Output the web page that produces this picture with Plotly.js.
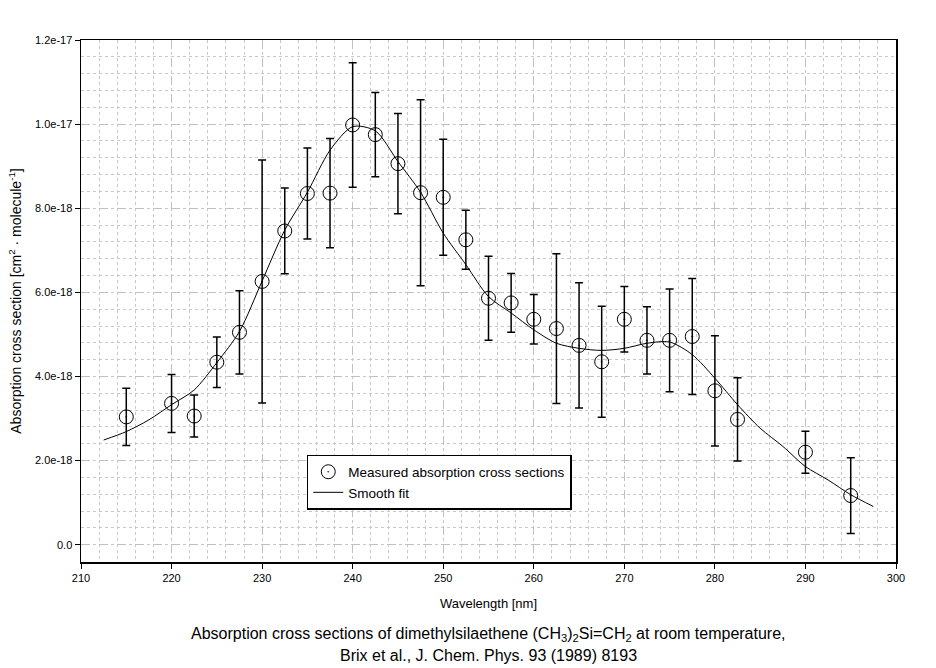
<!DOCTYPE html>
<html>
<head>
<meta charset="utf-8">
<script src="https://cdn.plot.ly/plotly-3.0.1.min.js"></script>
<style>html,body{margin:0;padding:0;background:#fff;}#chart{width:936px;height:668px;}</style>
</head>
<body>
<div id="chart"></div>
<script>
// Measured data (wavelength in nm, cross section in cm^2 molecule^-1)
const wavelength = [215,220,222.5,225,227.5,230,232.5,235,237.5,240,242.5,245,247.5,250,252.5,255,257.5,260,262.5,265,267.5,270,272.5,275,277.5,280,282.5,290,295];
const crossSection = [3.04e-18,3.36e-18,3.06e-18,4.34e-18,5.05e-18,6.26e-18,7.46e-18,8.35e-18,8.36e-18,9.98e-18,9.75e-18,9.06e-18,8.37e-18,8.26e-18,7.25e-18,5.86e-18,5.75e-18,5.36e-18,5.14e-18,4.74e-18,4.35e-18,5.36e-18,4.86e-18,4.86e-18,4.95e-18,3.66e-18,2.98e-18,2.20e-18,1.17e-18];
const crossError = [0.68e-18,0.69e-18,0.50e-18,0.60e-18,0.99e-18,2.89e-18,1.02e-18,1.08e-18,1.30e-18,1.48e-18,1.00e-18,1.19e-18,2.21e-18,1.38e-18,0.70e-18,1.00e-18,0.70e-18,0.59e-18,1.78e-18,1.49e-18,1.32e-18,0.78e-18,0.80e-18,1.22e-18,1.38e-18,1.31e-18,0.99e-18,0.50e-18,0.90e-18];

// Smooth fit curve
const fitWavelength = [212.5,215,217.5,220,222.5,225,227.5,230,232.5,235,237.5,240,242.5,245,247.5,250,252.5,255,257.5,260,262.5,265,267.5,270,272.5,275,277.5,280,282.5,285,287.5,290,292.5,295,297.5];
const fitCross = [2.49e-18,2.69e-18,2.97e-18,3.33e-18,3.68e-18,4.33e-18,5.07e-18,6.27e-18,7.48e-18,8.38e-18,9.38e-18,9.94e-18,9.84e-18,9.11e-18,8.38e-18,7.41e-18,6.66e-18,5.90e-18,5.51e-18,5.11e-18,4.79e-18,4.67e-18,4.62e-18,4.67e-18,4.79e-18,4.82e-18,4.52e-18,3.96e-18,3.33e-18,2.77e-18,2.34e-18,1.86e-18,1.54e-18,1.19e-18,0.91e-18];

// Tick labels
const xTickVals = [210,220,230,240,250,260,270,280,290,300];
const yTickVals = [0,2e-18,4e-18,6e-18,8e-18,1e-17,1.2e-17];
const yTickText = ['0.0','2.0e-18','4.0e-18','6.0e-18','8.0e-18','1.0e-17','1.2e-17'];

const FONT = 'Arial, "Liberation Sans", sans-serif';

const traces = [
  {
    x: wavelength, y: crossSection,
    type: 'scatter', mode: 'markers',
    name: 'Measured absorption cross sections',
    marker: {symbol: 'circle-open-dot', size: 14, color: '#000', line: {color: '#000', width: 1}},
    error_y: {type: 'data', array: crossError, visible: true, color: '#000', thickness: 1.5, width: 4}
  },
  {
    x: fitWavelength, y: fitCross,
    type: 'scatter', mode: 'lines',
    name: 'Smooth fit',
    line: {color: '#000', width: 1, shape: 'spline', smoothing: 0.8}
  }
];

const layout = {
  width: 936, height: 668,
  margin: {l: 81, r: 40, t: 40, b: 106},
  paper_bgcolor: '#fff', plot_bgcolor: '#fff',
  font: {family: FONT, size: 11, color: '#000'},
  showlegend: true,
  legend: {
    x: 0.277, y: 0.205, xanchor: 'left', yanchor: 'top',
    bgcolor: '#fff', bordercolor: '#000', borderwidth: 1.5,
    font: {family: FONT, size: 13.5, color: '#000'},
    tracegroupgap: 0
  },
  xaxis: {
    range: [210, 300],
    tickmode: 'array', tickvals: xTickVals,
    ticks: 'outside', ticklen: 5, tickcolor: '#000', tickwidth: 1,
    showline: true, linecolor: '#000', linewidth: 1.5, mirror: true,
    showgrid: true, gridcolor: '#c0c0c0', griddash: 'dash', gridwidth: 1,
    zeroline: false,
    tickfont: {family: FONT, size: 11, color: '#000'},
    title: {text: 'Wavelength [nm]', font: {family: FONT, size: 13, color: '#000'}, standoff: 16},
    minor: {tickmode: 'linear', tick0: 210, dtick: 2, showgrid: true, gridcolor: '#c8c8c8', griddash: 'dot', gridwidth: 1, ticks: ''}
  },
  yaxis: {
    range: [-0.41e-18, 1.2e-17],
    tickmode: 'array', tickvals: yTickVals, ticktext: yTickText,
    ticks: 'outside', ticklen: 5, tickcolor: '#000', tickwidth: 1,
    showline: true, linecolor: '#000', linewidth: 1.5, mirror: true,
    showgrid: true, gridcolor: '#c0c0c0', griddash: 'dash', gridwidth: 1,
    zeroline: false,
    tickfont: {family: FONT, size: 11, color: '#000'},
    title: {text: 'Absorption cross section [cm<sup>2</sup> · molecule<sup>-1</sup>]', font: {family: FONT, size: 14, color: '#000'}, standoff: 10},
    minor: {tickmode: 'linear', tick0: 0, dtick: 0.4e-18, showgrid: true, gridcolor: '#c8c8c8', griddash: 'dot', gridwidth: 1, ticks: ''}
  },
  annotations: [
    {
      xref: 'paper', yref: 'paper', x: 0.5, y: -0.138, xanchor: 'center', yanchor: 'middle',
      showarrow: false, align: 'center',
      text: 'Absorption cross sections of dimethylsilaethene (CH<sub>3</sub>)<sub>2</sub>Si=CH<sub>2</sub> at room temperature,',
      font: {family: FONT, size: 16, color: '#000'}
    },
    {
      xref: 'paper', yref: 'paper', x: 0.5, y: -0.18, xanchor: 'center', yanchor: 'middle',
      showarrow: false, align: 'center',
      text: 'Brix et al., J. Chem. Phys. 93 (1989) 8193',
      font: {family: FONT, size: 16, color: '#000'}
    }
  ]
};

Plotly.newPlot('chart', traces, layout, {displayModeBar: false, staticPlot: true});
</script>
</body>
</html>
